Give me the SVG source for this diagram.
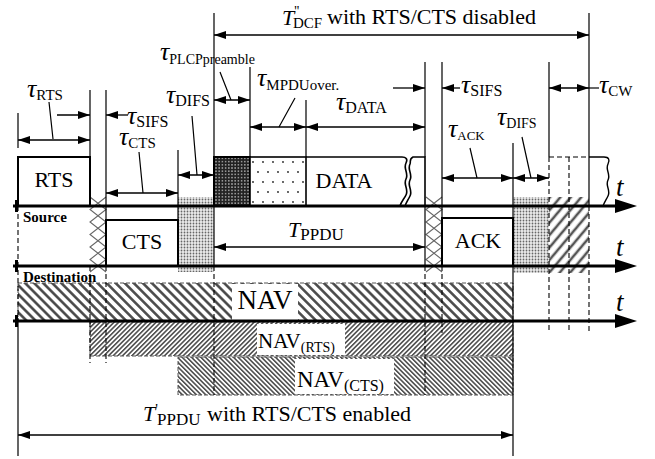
<svg xmlns="http://www.w3.org/2000/svg" width="655" height="459" viewBox="0 0 655 459" font-family="'Liberation Serif', 'Times New Roman', serif">
<defs>
  <style>
    text { font-family: 'Liberation Serif', 'Times New Roman', serif; fill: #000; }
    .g { font-style: italic; font-size: 26px; }
    .it { font-style: italic; }
    .lbl { font-size: 22px; }
    .bx { font-size: 22px; text-anchor: middle; }
    .side { font-size: 15px; font-weight: bold; }
    .t { font-style: italic; font-size: 27px; }
    .box { fill: #fff; stroke: #000; stroke-width: 2; }
    .ln { stroke: #000; stroke-width: 1.2; fill: none; }
    .dl { stroke: #000; stroke-width: 1.1; fill: none; stroke-dasharray: 5 3; }
    .bd { stroke: #555; stroke-width: 1; fill: none; stroke-dasharray: 4 2; }
    .axis { stroke: #000; stroke-width: 3; }
    .arr { stroke: #000; stroke-width: 1.3; fill: none; marker-start: url(#ah); marker-end: url(#ah); }
    .arr1 { stroke: #000; stroke-width: 1.3; fill: none; marker-end: url(#ah); }
  </style>
  <marker id="ah" viewBox="0 0 12 8" refX="12" refY="4" markerWidth="12" markerHeight="8" markerUnits="userSpaceOnUse" orient="auto-start-reverse">
    <path d="M0,0 L12,4 L0,8 z" fill="#000"/>
  </marker>
  <!-- coarse backslash hatch for NAV -->
  <pattern id="navh" patternUnits="userSpaceOnUse" width="6.4" height="10" patternTransform="rotate(-45)">
    <line x1="3.2" y1="0" x2="3.2" y2="10" stroke="#444" stroke-width="2.5"/>
  </pattern>
  <!-- fine slash hatch for NAV(RTS) -->
  <pattern id="rtsh" patternUnits="userSpaceOnUse" width="3.3" height="10" patternTransform="rotate(45)">
    <line x1="1.6" y1="0" x2="1.6" y2="10" stroke="#444" stroke-width="1.5"/>
  </pattern>
  <!-- fine backslash hatch for NAV(CTS) -->
  <pattern id="ctsh" patternUnits="userSpaceOnUse" width="3.3" height="10" patternTransform="rotate(-45)">
    <line x1="1.6" y1="0" x2="1.6" y2="10" stroke="#444" stroke-width="1.5"/>
  </pattern>
  <!-- coarse slash hatch for backoff -->
  <pattern id="cwh" patternUnits="userSpaceOnUse" width="8" height="10" patternTransform="rotate(40)">
    <line x1="4" y1="0" x2="4" y2="10" stroke="#555" stroke-width="2.6"/>
  </pattern>
  <!-- DIFS dotted fill -->
  <pattern id="difs" patternUnits="userSpaceOnUse" width="3" height="3">
    <rect width="3" height="3" fill="#ececec"/>
    <circle cx="1.5" cy="1.5" r="0.9" fill="#666"/>
  </pattern>
  <!-- PLCP preamble fill -->
  <pattern id="pre" patternUnits="userSpaceOnUse" width="3.2" height="3.2">
    <rect width="3.2" height="3.2" fill="#222"/>
    <circle cx="1.6" cy="1.6" r="0.8" fill="#bbb"/>
  </pattern>
  <!-- MPDU overhead fill -->
  <pattern id="mpdu" patternUnits="userSpaceOnUse" width="10" height="20" x="250" y="157">
    <rect width="10" height="20" fill="#fff"/>
    <circle cx="3" cy="5" r="0.9" fill="#222"/>
    <circle cx="8" cy="15" r="0.9" fill="#222"/>
  </pattern>
  <!-- SIFS cross hatch column -->
  <g id="xcol" stroke="#666" stroke-width="1.1" fill="none">
    <path d="M0,0 L16,12.5 L0,25 L16,37.5 L0,50 L16,62.5 L0,75"/>
    <path d="M16,0 L0,12.5 L16,25 L0,37.5 L16,50 L0,62.5 L16,75"/>
  </g>
</defs>

<rect width="655" height="459" fill="#fff"/>

<!-- NAV bands -->
<g id="nav">
  <rect x="18" y="283" width="495" height="38" fill="url(#navh)"/>
  <rect x="232" y="284" width="66" height="36" fill="#fff"/>
  <rect x="18" y="283" width="495" height="38" class="bd"/>
  <text x="265" y="309" font-size="27" text-anchor="middle">NAV</text>
</g>
<g id="nav-rts">
  <rect x="90" y="322" width="423" height="34" fill="url(#rtsh)"/>
  <rect x="257" y="324" width="88" height="31" fill="#fff"/>
  <rect x="90" y="322" width="423" height="34" class="bd"/>
  <text x="258" y="348" font-size="21">NAV<tspan font-size="14" dy="4">(RTS)</tspan></text>
</g>
<g id="nav-cts">
  <rect x="178" y="357" width="335" height="38" fill="url(#ctsh)"/>
  <rect x="295" y="359" width="99" height="35" fill="#fff"/>
  <rect x="178" y="357" width="335" height="38" class="bd"/>
  <text x="297" y="387" font-size="23">NAV<tspan font-size="16" dy="4">(CTS)</tspan></text>
</g>

<!-- interframe spaces and backoff -->
<g id="sifs1"><use href="#xcol" x="90" y="197"/></g>
<g id="sifs2"><use href="#xcol" x="426" y="197"/></g>
<g id="difs1"><rect x="178" y="197" width="36" height="75" fill="url(#difs)"/></g>
<g id="difs2"><rect x="513" y="197" width="36" height="76" fill="url(#difs)"/></g>
<g id="backoff"><rect x="549" y="197" width="40" height="76" fill="url(#cwh)"/></g>

<!-- frames -->
<g id="rts">
  <rect x="18" y="157" width="72" height="49" class="box"/>
  <text class="bx" x="54" y="187">RTS</text>
</g>
<g id="cts">
  <rect x="106" y="220" width="72" height="46" class="box"/>
  <text class="bx" x="142" y="249">CTS</text>
</g>
<g id="ack">
  <rect x="442" y="218" width="71" height="48" class="box"/>
  <text class="bx" x="478" y="248">ACK</text>
</g>
<g id="data">
  <rect x="214" y="157" width="36" height="49" fill="url(#pre)" stroke="#000" stroke-width="2"/>
  <rect x="250" y="157" width="56" height="49" fill="url(#mpdu)" stroke="#000" stroke-width="1.6"/>
  <path d="M306,157 H402 C406,157 408,159 406,163 C403,169 409,173 406,179 C403,185 409,189 406,195 C404,199 401,202 400,206" stroke="#000" stroke-width="1.6" fill="none"/>
  <path d="M425,206 V157 H413 C409,159 411,161 410,164 C407,170 413,174 410,180 C407,186 413,190 410,196 C408,200 406,203 405,206" stroke="#000" stroke-width="1.6" fill="none"/>
  <text class="bx" x="344" y="188">DATA</text>
</g>
<g id="cw">
  <path d="M549,157 H589" class="dl"/>
  <path d="M589,157 H604 C609,157 610,160 608,164 C605,170 611,174 608,180 C605,186 611,190 608,196 C606,200 604,203 603,206" stroke="#000" stroke-width="1.4" fill="none"/>
</g>

<!-- connectors: guides, dimension arrows, leaders -->
<g id="connectors">
  <!-- solid guides -->
  <path class="ln" d="M18,113 V148 M90,90 V157 M106,90 V220 M178,150 V220 M214,13 V157 M214,206 V266 M250,67 V157 M306,100 V157 M425,62 V157 M425,206 V266 M442,62 V218 M513,143 V218 M513,266 V456 M549,62 V157 M589,13 V206 M18,321 V456"/>
  <!-- dashed guides -->
  <path class="dl" d="M18,206 V321 M90,266 V363 M106,266 V363 M214,266 V395 M425,266 V395 M442,266 V333 M549,157 V332 M569,157 V332 M589,206 V332"/>

  <!-- time axes -->
  <line class="axis" x1="13" y1="206" x2="620" y2="206"/>
  <path d="M615,199 L637,206 L615,213 z"/>
  <line class="axis" x1="13" y1="266" x2="620" y2="266"/>
  <path d="M615,259 L637,266 L615,273 z"/>
  <line class="axis" x1="13" y1="321" x2="620" y2="321"/>
  <path d="M615,314 L637,321 L615,328 z"/>
  <rect x="15" y="200" width="3" height="12"/>
  <rect x="15" y="260" width="3" height="12"/>
  <rect x="15" y="315" width="3" height="12"/>

  <!-- dimension arrows -->
  <line class="arr" x1="214" y1="35" x2="589" y2="35"/>
  <line class="arr" x1="18" y1="140" x2="90" y2="140"/>
  <line class="arr1" x1="57" y1="115" x2="90" y2="115"/>
  <line class="arr1" x1="128" y1="115" x2="106" y2="115"/>
  <line class="arr" x1="106" y1="193" x2="178" y2="193"/>
  <line class="arr" x1="178" y1="175" x2="214" y2="175"/>
  <line class="arr" x1="214" y1="100" x2="250" y2="100"/>
  <line class="arr" x1="250" y1="127" x2="306" y2="127"/>
  <line class="arr" x1="306" y1="127" x2="425" y2="127"/>
  <line class="arr1" x1="393" y1="88" x2="425" y2="88"/>
  <line class="arr1" x1="460" y1="88" x2="442" y2="88"/>
  <line class="arr" x1="549" y1="88" x2="589" y2="88"/>
  <line class="ln" x1="589" y1="88" x2="599" y2="88"/>
  <line class="arr" x1="442" y1="178" x2="513" y2="178"/>
  <line class="arr" x1="513" y1="178" x2="549" y2="178"/>
  <line class="arr" x1="214" y1="247" x2="425" y2="247"/>
  <line class="arr" x1="18" y1="435" x2="513" y2="435"/>

  <!-- leaders -->
  <path class="ln" d="M49,102 L53,139 M139,152 L143,193 M192,116 L197,175 M220,72 L231,100 M295,98 L279,127 M470,148 L477,178 M522,137 L531,178"/>
</g>

<!-- labels -->
<g id="labels">
  <text x="282" y="25" class="lbl"><tspan class="it">T</tspan><tspan font-size="14" dy="-9">''</tspan><tspan x="293" dy="12" font-size="15">DCF</tspan></text>
  <text x="327" y="24" class="lbl">with RTS/CTS disabled</text>

  <text x="288" y="237" class="lbl"><tspan class="it">T</tspan><tspan font-size="17" dy="3">PPDU</tspan></text>

  <text x="143" y="421" class="lbl"><tspan class="it">T</tspan><tspan font-size="15" dy="-7">'</tspan><tspan x="157" dy="11" font-size="17">PPDU</tspan></text>
  <text x="207" y="421" class="lbl">with RTS/CTS enabled</text>

  <text x="27" y="97"><tspan class="g">τ</tspan><tspan font-size="15" dy="3">RTS</tspan></text>
  <text x="127" y="124"><tspan class="g">τ</tspan><tspan font-size="16" dy="3">SIFS</tspan></text>
  <text x="119" y="145"><tspan class="g">τ</tspan><tspan font-size="15" dy="3">CTS</tspan></text>
  <text x="166" y="103"><tspan class="g">τ</tspan><tspan font-size="16" dy="3">DIFS</tspan></text>
  <text x="160" y="60"><tspan class="g">τ</tspan><tspan font-size="14" dy="4">PLCPpreamble</tspan></text>
  <text x="257" y="86"><tspan class="g">τ</tspan><tspan font-size="15" dy="4">MPDUover.</tspan></text>
  <text x="336" y="110"><tspan class="g">τ</tspan><tspan font-size="16" dy="3">DATA</tspan></text>
  <text x="461" y="93"><tspan class="g">τ</tspan><tspan font-size="16" dy="3">SIFS</tspan></text>
  <text x="599" y="93"><tspan class="g">τ</tspan><tspan font-size="15" dy="3">CW</tspan></text>
  <text x="448" y="137"><tspan class="g">τ</tspan><tspan font-size="13" dy="3">ACK</tspan></text>
  <text x="497" y="125"><tspan class="g">τ</tspan><tspan font-size="14" dy="3">DIFS</tspan></text>

  <text class="side" x="23" y="222">Source</text>
  <text class="side" x="23" y="282">Destination</text>

  <text class="t" x="616" y="196">t</text>
  <text class="t" x="616" y="256">t</text>
  <text class="t" x="616" y="311">t</text>
</g>
</svg>
